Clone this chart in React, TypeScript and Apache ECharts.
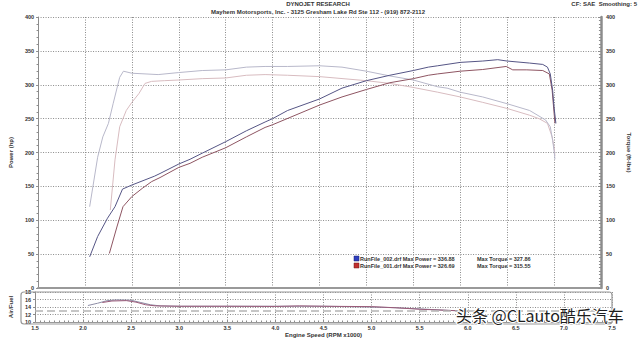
import React, { useEffect, useRef } from "react";
import * as echarts from "echarts";

// ---- data ----
const runNames = ["RunFile_002.drf", "RunFile_001.drf"];
const maxPower = ["336.88", "326.69"];
const maxTorque = ["327.86", "315.55"];

// [rpm x1000, hp]
const power002: [number, number][] = [
  [2.05, 46], [2.135, 76], [2.24, 103], [2.32, 120], [2.4, 146], [2.5, 152], [2.74, 165], [2.8, 169],
  [3.0, 183], [3.12, 190], [3.25, 199], [3.5, 216], [3.72, 232], [3.92, 245], [4.0, 250], [4.16, 262],
  [4.5, 279], [4.74, 295], [5.0, 306], [5.25, 314], [5.5, 321], [5.66, 326], [5.76, 328], [6.0, 333],
  [6.24, 335], [6.4, 337], [6.5, 335], [6.74, 332], [6.88, 330], [6.93, 326], [6.96, 316], [6.985, 292],
  [7.0, 267], [7.02, 243],
];
const power001: [number, number][] = [
  [2.26, 51], [2.34, 90], [2.405, 120], [2.5, 135], [2.61, 147], [2.71, 157], [2.8, 163], [3.0, 178],
  [3.12, 184], [3.25, 193], [3.5, 207], [3.72, 223], [3.92, 237], [4.0, 241], [4.5, 270], [4.74, 282],
  [5.0, 293], [5.25, 303], [5.5, 309], [5.66, 314], [5.76, 316], [6.0, 320], [6.24, 322.5], [6.49, 327],
  [6.56, 322], [6.71, 322], [6.88, 321], [6.95, 316], [6.98, 292], [7.01, 243],
];
// [rpm x1000, ft-lbs]
const torque002: [number, number][] = [
  [2.05, 120], [2.135, 193], [2.19, 223], [2.25, 243], [2.3, 272], [2.37, 311], [2.41, 320], [2.5, 317],
  [2.78, 315], [3.0, 318], [3.25, 321], [3.5, 322], [3.72, 326], [3.92, 327], [4.16, 327], [4.5, 328],
  [4.74, 326], [5.0, 320], [5.25, 313], [5.5, 307], [5.76, 297], [5.86, 295], [6.0, 289], [6.24, 282],
  [6.5, 272], [6.74, 262], [6.91, 248], [6.96, 238], [6.985, 218], [7.0, 203], [7.01, 190],
];
const torque001: [number, number][] = [
  [2.27, 115], [2.32, 189], [2.37, 238], [2.44, 262], [2.5, 274], [2.575, 287], [2.64, 302], [2.71, 305],
  [2.845, 306], [3.0, 307], [3.25, 309], [3.5, 310], [3.72, 314], [3.92, 315], [4.16, 314], [4.5, 312],
  [5.0, 306], [5.25, 302], [5.5, 296], [5.76, 289], [6.0, 282], [6.24, 274], [6.5, 265], [6.74, 255],
  [6.84, 250], [6.93, 243], [6.98, 223], [7.0, 208], [7.01, 195],
];
// [rpm x1000, air/fuel ratio]
const af002: [number, number][] = [
  [2.05, 14.4], [2.15, 15.0], [2.25, 15.7], [2.35, 15.9], [2.5, 15.8], [2.6, 15.2], [2.7, 14.6], [2.8, 14.3],
  [3.0, 14.2], [3.5, 14.2], [4.0, 14.2], [4.5, 14.2], [5.0, 14.0], [5.25, 13.8], [5.5, 13.5], [5.8, 13.1],
  [6.0, 12.9],
];
const af001: [number, number][] = [
  [2.2, 15.2], [2.3, 15.6], [2.45, 15.7], [2.55, 15.3], [2.65, 14.6], [2.75, 14.3], [3.0, 14.2], [3.5, 14.2],
  [4.0, 14.15], [4.25, 14.3], [4.5, 14.2], [5.0, 14.1], [5.25, 13.8], [5.5, 13.4], [5.8, 13.1], [6.0, 12.9],
];
const afTarget = 13.0;

export default function App() {
  const ref = useRef<HTMLDivElement>(null);
  useEffect(() => {
    const chart = echarts.init(ref.current!, null, { renderer: "svg" });
    const font = "Liberation Sans";
    const lbl = { fontFamily: font, fontSize: 5.5, fontWeight: "bold" as const, color: "#333" };
    const gray = "#8c8c8c";
    const dotted = { show: true, lineStyle: { color: "#8c8c8c", type: [1, 1.5], width: 1 } };
    const line = (data: [number, number][], color: string, xi: number, yi: number, extra: any = {}) => ({
      type: "line",
      data,
      xAxisIndex: xi,
      yAxisIndex: yi,
      symbol: "none",
      showSymbol: false,
      lineStyle: { color, width: 1 },
      ...extra,
    });
    chart.setOption({
      animation: false,
      backgroundColor: "#ffffff",
      grid: [
        { left: 21, right: 28, top: 17, height: 271 },
        { left: 21, right: 28, top: 292, height: 32 },
      ],
      xAxis: [
        {
          type: "value", gridIndex: 0, min: 1.5, max: 7.5, interval: 0.5,
          axisLabel: { show: false }, axisTick: { show: false },
          axisLine: { show: true, onZero: false, lineStyle: { color: "#999", width: 2 } },
          splitLine: dotted,
        },
        {
          type: "value", gridIndex: 1, min: 1.5, max: 7.5, interval: 0.5,
          axisLabel: { ...lbl, margin: 3, formatter: (v: number) => v.toFixed(1) },
          axisTick: { show: true, inside: true, length: 2, lineStyle: { color: gray } },
          minorTick: { show: true, splitNumber: 10, length: 1.5, lineStyle: { color: gray } },
          axisLine: { show: true, onZero: false, lineStyle: { color: "#999", width: 1 } },
          splitLine: dotted,
          name: "Engine Speed (RPM x1000)", nameLocation: "middle", nameGap: 10,
          nameTextStyle: { ...lbl, fontSize: 6 },
        },
      ],
      yAxis: [
        {
          type: "value", gridIndex: 0, min: 0, max: 400, interval: 50, position: "left",
          name: "Power (hp)", nameLocation: "middle", nameRotate: 90, nameGap: 13,
          nameTextStyle: { ...lbl, fontSize: 6 },
          axisLabel: { ...lbl, margin: 4 },
          axisLine: { show: true, lineStyle: { color: gray, width: 1 } },
          axisTick: { show: true, length: 2, lineStyle: { color: gray } },
          minorTick: { show: true, splitNumber: 5, length: 1.5, lineStyle: { color: gray } },
          splitLine: dotted,
        },
        {
          type: "value", gridIndex: 0, min: 0, max: 400, interval: 50, position: "right",
          name: "Torque (ft-lbs)", nameLocation: "middle", nameRotate: -90, nameGap: 19,
          nameTextStyle: { ...lbl, fontSize: 6 },
          axisLabel: { ...lbl, margin: 5 },
          axisLine: { show: true, lineStyle: { color: gray, width: 2.5 } },
          axisTick: { show: true, inside: true, length: 2.5, lineStyle: { color: gray } },
          minorTick: { show: true, splitNumber: 10, length: 2, lineStyle: { color: gray } },
          splitLine: { show: false },
        },
        {
          type: "value", gridIndex: 1, min: 10, max: 18, interval: 2, position: "left",
          name: "Air/Fuel", nameLocation: "middle", nameRotate: 90, nameGap: 13,
          nameTextStyle: { ...lbl, fontSize: 6 },
          axisLabel: { ...lbl, margin: 4 },
          axisLine: { show: true, lineStyle: { color: gray, width: 1 } },
          axisTick: { show: true, length: 2, lineStyle: { color: gray } },
          splitLine: dotted,
        },
      ],
      graphic: [
        { type: "text", x: 318, y: 1, style: { text: "DYNOJET RESEARCH", font: `bold 6px "${font}"`, fill: "#333", textAlign: "center", textVerticalAlign: "top" } },
        { type: "text", x: 318, y: 9, style: { text: "Mayhem Motorsports, Inc. - 3125 Gresham Lake Rd Ste 112 - (919) 872-2112", font: `bold 6px "${font}"`, fill: "#333", textAlign: "center", textVerticalAlign: "top" } },
        { type: "text", x: 637, y: 1, style: { text: "CF: SAE  Smoothing: 5", font: `bold 6px "${font}"`, fill: "#333", textAlign: "right", textVerticalAlign: "top" } },
        { type: "rect", shape: { x: 21, y: 292, width: 591, height: 32, r: 3 }, style: { fill: "none", stroke: "#999", lineWidth: 1.2 }, z: 10 },
        { type: "rect", shape: { x: 354, y: 256, width: 5, height: 5 }, style: { fill: "#2f3fbf", stroke: "#1a2070", lineWidth: 0.5 }, z: 20 },
        { type: "rect", shape: { x: 354, y: 263, width: 5, height: 5 }, style: { fill: "#c03030", stroke: "#701a1a", lineWidth: 0.5 }, z: 20 },
        { type: "text", x: 360, y: 258.5, style: { text: `${runNames[0]} Max Power = ${maxPower[0]}`, font: `bold 5.5px "${font}"`, fill: "#333", textVerticalAlign: "middle" }, z: 20 },
        { type: "text", x: 360, y: 265.5, style: { text: `${runNames[1]} Max Power = ${maxPower[1]}`, font: `bold 5.5px "${font}"`, fill: "#333", textVerticalAlign: "middle" }, z: 20 },
        { type: "text", x: 477, y: 258.5, style: { text: `Max Torque = ${maxTorque[0]}`, font: `bold 5.5px "${font}"`, fill: "#333", textVerticalAlign: "middle" }, z: 20 },
        { type: "text", x: 477, y: 265.5, style: { text: `Max Torque = ${maxTorque[1]}`, font: `bold 5.5px "${font}"`, fill: "#333", textVerticalAlign: "middle" }, z: 20 },
        { type: "text", x: 456, y: 307, style: { text: "头条 @CLauto酷乐汽车", font: `16px "Noto Sans CJK SC"`, fill: "#1e1e1e", stroke: "#ffffff", lineWidth: 2, textVerticalAlign: "top" }, z: 30 },
      ],
      series: [
        line(torque001, "#d8bcc0", 0, 1),
        line(torque002, "#b8b8ca", 0, 1),
        line(power001, "#8e5562", 0, 0),
        line(power002, "#555585", 0, 0),
        line(af002, "#8d8da6", 1, 2, {
          markLine: {
            silent: true, symbol: ["none", "none"], label: { show: false },
            lineStyle: { color: "#b4b4b4", type: [8, 4], width: 1.5 },
            data: [{ yAxis: afTarget }],
          },
        }),
        line(af001, "#9a5a78", 1, 2),
      ],
    });
    return () => chart.dispose();
  }, []);
  return <div ref={ref} style={{ position: "fixed", left: 0, top: 0, width: 640, height: 339 }} />;
}
